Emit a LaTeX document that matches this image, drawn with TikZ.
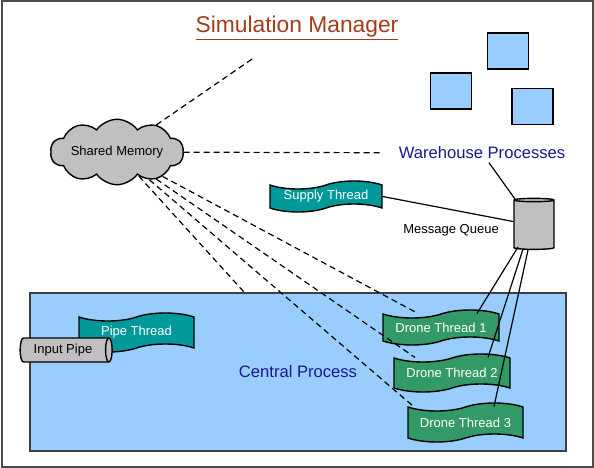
\documentclass[tikz,border=0pt]{standalone}
\usepackage{fontspec}
\setmainfont{Liberation Sans}
\usetikzlibrary{shapes.symbols,shapes.geometric,positioning}
\definecolor{titlered}{HTML}{A33D1A}
\definecolor{navytext}{HTML}{1A1A8C}
\definecolor{skyfill}{HTML}{99CCFF}
\definecolor{tealfill}{HTML}{009999}
\definecolor{dronefill}{HTML}{339966}
\definecolor{greyfill}{HTML}{C0C0C0}
\begin{document}
\begin{tikzpicture}[x=1pt,y=-1pt,
        small/.style={font=\fontsize{13}{15}\selectfont},
        big/.style={font=\fontsize{16.6}{19}\selectfont, text=navytext},
        thread/.style={tape, draw, line width=1.4pt, small, text=white, tape bend height=8pt, inner sep=0pt},
        whbox/.style={draw, line width=1.4pt, fill=skyfill, minimum width=41pt, minimum height=36pt},
        link/.style={line width=1.2pt, dash pattern=on 6pt off 4pt}]
        \useasboundingbox (0,0) rectangle (594,468);
        % Frame
        \draw[line width=2pt, black!70] (1.5,1.5) rectangle (592.5,466.5);

        % Title
        \node[font=\fontsize{22.8}{26}\selectfont, text=titlered, anchor=base] (title) at (297,33) {\underline{Simulation Manager}};

        % Central process
        \node[draw=black!75, line width=1.2pt, fill=skyfill, minimum width=536pt, minimum height=158pt, big] (central) at (298,372) {Central Process};
        \node[thread, fill=tealfill, minimum width=115pt, minimum height=39pt] (pipethread) at (136.5,332.5) {Pipe Thread};
        \node[cylinder, draw, line width=1.4pt, fill=greyfill, aspect=0.35, minimum width=24pt, minimum height=92pt, small] (pipe) at (63,350) {Input Pipe};
        \node[thread, fill=dronefill, minimum width=116pt, minimum height=35pt] (dt1) at (441,327.5) {Drone Thread 1};
        \node[thread, fill=dronefill, minimum width=116pt, minimum height=38pt] (dt2) at (452,373) {Drone Thread 2};
        \node[thread, fill=dronefill, minimum width=115pt, minimum height=39pt] (dt3) at (465.5,422.5) {Drone Thread 3};

        % Shared memory
        \node[cloud, draw, line width=1.4pt, fill=greyfill, cloud puffs=10, cloud puff arc=110, aspect=2.8, minimum width=133pt, minimum height=47pt, inner sep=0pt, small] (shm) at (117,152) {Shared Memory};

        % Warehouse processes
        \node[whbox] (wh1) at (508,51) {};
        \node[whbox] (wh2) at (451,91) {};
        \node[whbox] (wh3) at (532.5,106.5) {};
        \node[big] (wh) at (482,153) {Warehouse Processes};
        \node[thread, fill=tealfill, minimum width=112pt, minimum height=31pt] (supply) at (326,196.5) {Supply Thread};
        \node[cylinder, draw, line width=1.4pt, fill=greyfill, shape border rotate=90, aspect=0.5, minimum width=40pt, minimum height=51pt] (mq) at (534,225.5) {};
        \node[small, left=11pt of mq, yshift=-5pt] (mqlabel) {Message Queue};

        % Dashed links to shared memory
        \draw[link, shorten >=26pt] (shm) -- (title);
        \draw[link, shorten >=12pt] (shm) -- (wh);
        \draw[link] (shm) -- (central.124);
        \draw[link] (shm) -- ([xshift=-23pt]dt1.north);
        \draw[link] (shm) -- ([xshift=-37pt]dt2.north);
        \draw[link] (shm) -- ([xshift=-52pt]dt3.north);

        % Message queue links
        \draw[line width=1.2pt] (wh) -- (mq);
        \draw[line width=1.2pt] (supply.east) -- (mq);
        \draw[line width=1.2pt] ([xshift=-16pt, yshift=3pt]mq.south) -- ([xshift=36pt]dt1.north);
        \draw[line width=1.2pt] ([xshift=-11pt, yshift=1pt]mq.south) -- ([xshift=36pt]dt2.north);
        \draw[line width=1.2pt] ([xshift=-6pt]mq.south) -- ([xshift=28.5pt]dt3.north);
\end{tikzpicture}
\end{document}
